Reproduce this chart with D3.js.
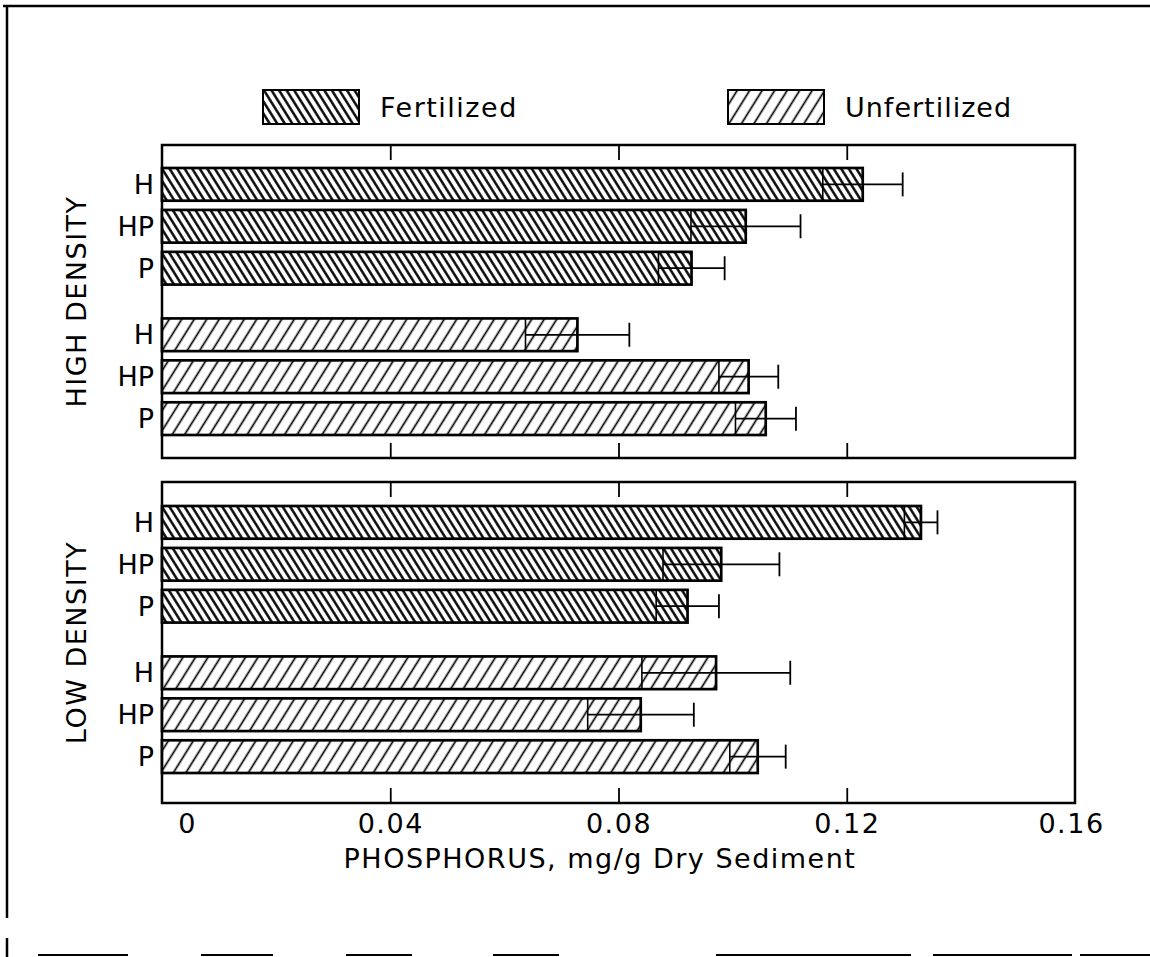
<!DOCTYPE html>
<html><head><meta charset="utf-8">
<script src="https://cdn.jsdelivr.net/npm/d3@7"></script>
<style>body{margin:0;background:#fff}svg{display:block}</style>
</head><body><svg id="chart" width="1150" height="957"></svg>
<script>
// ---- data ----
const panels = ["HIGH DENSITY", "LOW DENSITY"];
const treatments = ["Fertilized", "Unfertilized"];
const species = ["H", "HP", "P"];
const highFertMean   = [0.1228, 0.1023, 0.0928];
const highFertSE     = [0.0070, 0.0096, 0.0058];
const highUnfertMean = [0.0728, 0.1028, 0.1058];
const highUnfertSE   = [0.0091, 0.0052, 0.0053];
const lowFertMean    = [0.1330, 0.0980, 0.0921];
const lowFertSE      = [0.0029, 0.0102, 0.0055];
const lowUnfertMean  = [0.0971, 0.0839, 0.1044];
const lowUnfertSE    = [0.0130, 0.0093, 0.0049];
const xTicks = [0, 0.04, 0.08, 0.12, 0.16];
const xTickLabels = ["0", "0.04", "0.08", "0.12", "0.16"];
const xTitle = "PHOSPHORUS, mg/g Dry Sediment";

const panelData = [
  {name: panels[0], groups: [
    {t: treatments[0], mean: highFertMean, se: highFertSE},
    {t: treatments[1], mean: highUnfertMean, se: highUnfertSE}]},
  {name: panels[1], groups: [
    {t: treatments[0], mean: lowFertMean, se: lowFertSE},
    {t: treatments[1], mean: lowUnfertMean, se: lowUnfertSE}]}
];

// ---- layout ----
const FONT = "'DejaVu Sans', sans-serif";
const svg = d3.select("#chart");
svg.append("rect").attr("width",1150).attr("height",957).attr("fill","#fff");
const defs = svg.append("defs");
function hatch(id, step, angle, sw){
  const p = defs.append("pattern").attr("id", id).attr("patternUnits","userSpaceOnUse")
    .attr("width", step).attr("height", step).attr("patternTransform", `rotate(${angle})`);
  p.append("rect").attr("width", step).attr("height", step).attr("fill", "#fff");
  p.append("line").attr("x1", step/2).attr("x2", step/2).attr("y1", -1).attr("y2", step+1)
    .attr("stroke", "#000").attr("stroke-width", sw);
}
hatch("hatch-Fertilized", 6.4, -32, 2.4);
hatch("hatch-Unfertilized", 10.6, 32, 1.7);

const x = d3.scaleLinear().domain([0, 0.16]).range([162, 1075]);
const frames = [{top:145, bottom:458, b0:168, b1:435}, {top:482, bottom:803, b0:506, b1:773}];

// outer scan frame
const outer = svg.append("g").attr("stroke","#000").attr("fill","none");
outer.append("path").attr("d","M3,6H1150").attr("stroke-width",2.5);
outer.append("path").attr("d","M7,6V918M7,938V957").attr("stroke-width",2.5);
outer.append("path").attr("d","M38,955H1150").attr("stroke-width",2)
  .attr("stroke-dasharray","90 73 72 73 66 81 66 157 195 22 139 8 90");

panelData.forEach((pd, pi) => {
  const f = frames[pi];
  const g = svg.append("g");
  const yGroup = d3.scaleBand().domain(treatments).range([f.b0, f.b1]).paddingInner(0.225).paddingOuter(0);
  const yInner = d3.scaleBand().domain(species).range([0, yGroup.bandwidth()]).paddingInner(0.22).paddingOuter(0);

  // frame
  g.append("rect").attr("x", x(0)).attr("y", f.top).attr("width", x(0.16)-x(0)).attr("height", f.bottom-f.top)
    .attr("fill","none").attr("stroke","#000").attr("stroke-width",2.5);
  // inner ticks top and bottom
  const tv = xTicks.slice(1, -1);
  const at = g.append("g").attr("transform",`translate(0,${f.top})`)
    .call(d3.axisTop(x).tickValues(tv).tickSize(-15).tickFormat(""));
  const ab = g.append("g").attr("transform",`translate(0,${f.bottom})`)
    .call(d3.axisBottom(x).tickValues(tv).tickSize(-15).tickFormat(""));
  [at, ab].forEach(a => { a.select(".domain").remove(); a.selectAll("line").attr("stroke","#000").attr("stroke-width",1.8); });

  pd.groups.forEach(gr => {
    species.forEach((s, i) => {
      const y0 = yGroup(gr.t) + yInner(s);
      const h = yInner.bandwidth();
      const m = gr.mean[i], e = gr.se[i];
      g.append("rect").attr("x", x(0)).attr("y", y0).attr("width", x(m)-x(0)).attr("height", h)
        .attr("fill", `url(#hatch-${gr.t})`).attr("stroke","#000").attr("stroke-width",2.7);
      const cy = y0 + h/2;
      const eb = g.append("g").attr("stroke","#000");
      eb.append("line").attr("x1", x(m-e)).attr("x2", x(m-e)).attr("y1", y0).attr("y2", y0+h).attr("stroke-width",1.6);
      eb.append("line").attr("x1", x(m-e)).attr("x2", x(m+e)).attr("y1", cy).attr("y2", cy).attr("stroke-width",1.8);
      eb.append("line").attr("x1", x(m+e)).attr("x2", x(m+e)).attr("y1", cy-12).attr("y2", cy+12).attr("stroke-width",1.8);
      g.append("text").attr("x", 154).attr("y", cy).attr("dy","0.36em").attr("text-anchor","end")
        .attr("font-family", FONT).attr("font-size", 27).text(s);
    });
  });

  const cyPanel = (f.top + f.bottom) / 2;
  g.append("text").attr("transform", `translate(86,${cyPanel}) rotate(-90)`).attr("text-anchor","middle")
    .attr("font-family", FONT).attr("font-size", 27).attr("letter-spacing", 1.5).text(pd.name);
});

// x tick labels
const fb = frames[1];
const axL = svg.append("g").attr("transform", `translate(0,${fb.bottom})`)
  .call(d3.axisBottom(x).tickValues(xTicks).tickSize(0).tickPadding(11).tickFormat((d, i) => xTickLabels[i]));
axL.select(".domain").remove();
axL.selectAll("text").attr("font-family", FONT).attr("font-size", 27).attr("letter-spacing", 1.5).attr("fill","#000");
axL.selectAll(".tick").filter(d => d === 0).select("text").attr("dx", 25);
axL.selectAll(".tick").filter(d => d === 0.16).select("text").attr("dx", -4);

svg.append("text").attr("x", 600).attr("y", 868).attr("text-anchor","middle")
  .attr("font-family", FONT).attr("font-size", 27).attr("letter-spacing", 1.5).text(xTitle);

// legend
const legendX = [263, 728];
treatments.forEach((t, i) => {
  svg.append("rect").attr("x", legendX[i]).attr("y", 90).attr("width", 96).attr("height", 34)
    .attr("fill", `url(#hatch-${t})`).attr("stroke","#000").attr("stroke-width",2);
  svg.append("text").attr("x", legendX[i] + 117).attr("y", 117)
    .attr("font-family", FONT).attr("font-size", 27).attr("letter-spacing", i === 1 ? 1 : 1.5).text(t);
});
</script></body></html>
